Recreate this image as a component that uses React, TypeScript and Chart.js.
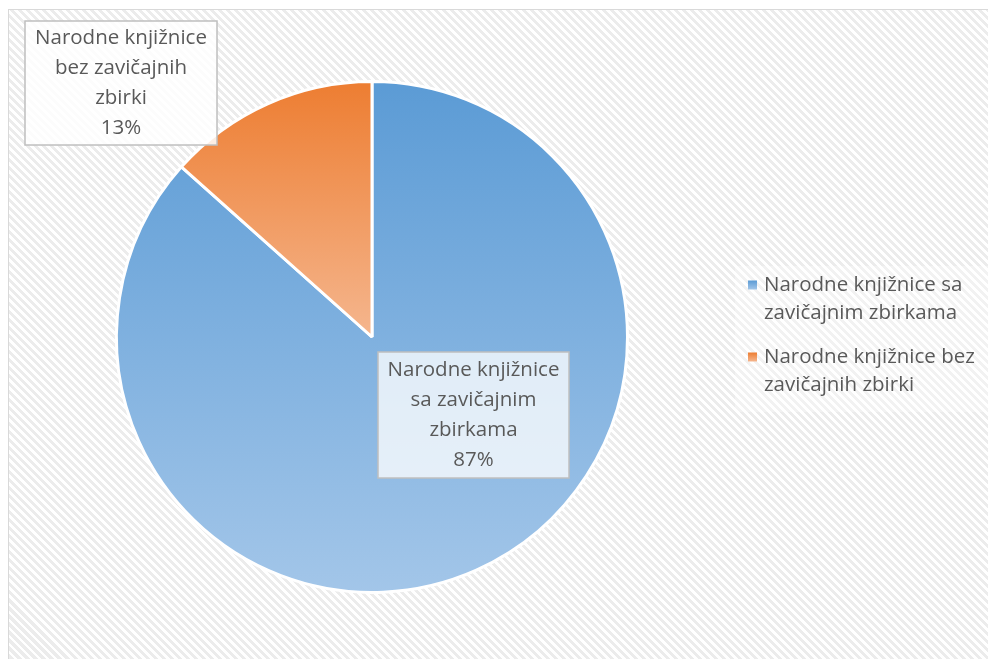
import React, { useEffect, useRef } from 'react';
import { Chart, registerables } from 'chart.js';

Chart.register(...registerables);

const categories = [
  'Narodne knjižnice sa zavičajnim zbirkama',
  'Narodne knjižnice bez zavičajnih zbirki',
];
const shares = [86.6, 13.4];
const topColors = ['#5B9BD5', '#ED7D31'];
const bottomColors = ['#A3C6E9', '#F5B68E'];

const FONT = '20.5px "Open Sans", "Noto Sans", sans-serif';
const TEXT = '#595959';

function wrap(ctx: CanvasRenderingContext2D, text: string, maxW: number): string[] {
  const words = text.split(' ');
  const lines: string[] = [];
  let cur = '';
  for (const w of words) {
    const t = cur ? cur + ' ' + w : w;
    if (cur && ctx.measureText(t).width > maxW) {
      lines.push(cur);
      cur = w;
    } else cur = t;
  }
  if (cur) lines.push(cur);
  return lines;
}

function sectorBounds(a0: number, a1: number) {
  const pts: [number, number][] = [[0, 0], [Math.cos(a0), Math.sin(a0)], [Math.cos(a1), Math.sin(a1)]];
  for (let k = -4; k <= 8; k++) {
    const a = (k * Math.PI) / 2;
    if (a > a0 && a < a1) pts.push([Math.cos(a), Math.sin(a)]);
  }
  let minY = Infinity, maxY = -Infinity;
  for (const p of pts) { minY = Math.min(minY, p[1]); maxY = Math.max(maxY, p[1]); }
  return { minY, maxY };
}

// label box offsets relative to pie centre (centre of box)
const labelBoxes = [
  { dx: 101.5, dy: 78, w: 191, h: 126, fill: 'rgba(255,255,255,0.76)' },
  { dx: -251, dy: -254, w: 192, h: 124, fill: 'rgba(255,255,255,0.85)' },
];

const labelPlugin = {
  id: 'boxLabels',
  afterDatasetsDraw(chart: any) {
    const ctx = chart.ctx as CanvasRenderingContext2D;
    const meta = chart.getDatasetMeta(0);
    const total = shares.reduce((a, b) => a + b, 0);
    ctx.save();
    ctx.font = FONT;
    meta.data.forEach((arc: any, i: number) => {
      const b = labelBoxes[i];
      const cx = arc.x + b.dx, cy = arc.y + b.dy;
      const x = cx - b.w / 2, y = cy - b.h / 2;
      ctx.fillStyle = b.fill;
      ctx.fillRect(x, y, b.w, b.h);
      ctx.strokeStyle = '#BFBFBF';
      ctx.lineWidth = 1.5;
      ctx.strokeRect(x, y, b.w, b.h);
      const lines = wrap(ctx, categories[i], 180);
      lines.push(Math.round((shares[i] / total) * 100) + '%');
      const lh = 30;
      ctx.fillStyle = TEXT;
      ctx.textAlign = 'center';
      ctx.textBaseline = 'middle';
      const start = cy - ((lines.length - 1) * lh) / 2;
      lines.forEach((l, k) => ctx.fillText(l, cx, start + k * lh));
    });
    ctx.restore();
  },
};

const legendPlugin = {
  id: 'sideLegend',
  afterDraw(chart: any) {
    const ctx = chart.ctx as CanvasRenderingContext2D;
    ctx.save();
    ctx.font = FONT;
    const bx = 726, by = 256, bw = 270, bh = 146;
    ctx.fillStyle = 'rgba(255,255,255,0.35)';
    ctx.fillRect(bx, by, bw, bh);
    const lh = 28.5;
    let y = 275;
    categories.forEach((c, i) => {
      const g = ctx.createLinearGradient(0, y - 4.5, 0, y + 4.5);
      g.addColorStop(0, topColors[i]);
      g.addColorStop(1, bottomColors[i]);
      ctx.fillStyle = g;
      ctx.fillRect(739, y - 4.5, 9, 9);
      const lines = wrap(ctx, c, 232);
      ctx.fillStyle = TEXT;
      ctx.textAlign = 'left';
      ctx.textBaseline = 'middle';
      lines.forEach((l, k) => ctx.fillText(l, 755, y + k * lh));
      y += lines.length * lh + 15;
    });
    ctx.restore();
  },
};

export default function App() {
  const ref = useRef<HTMLCanvasElement | null>(null);
  useEffect(() => {
    document.body.style.overflow = 'hidden';
    if (!ref.current) return;
    const total = shares.reduce((a, b) => a + b, 0);
    const angles: [number, number][] = [];
    let acc = -Math.PI / 2;
    shares.forEach((v) => {
      const a = (v / total) * Math.PI * 2;
      angles.push([acc, acc + a]);
      acc += a;
    });
    const chart = new Chart(ref.current, {
      type: 'pie',
      data: {
        labels: categories,
        datasets: [
          {
            data: shares,
            backgroundColor: (c: any) => {
              const i = c.dataIndex;
              const ca = c.chart.chartArea;
              if (!ca || i === undefined) return topColors[i ?? 0];
              const cy = (ca.top + ca.bottom) / 2;
              const R = Math.min(ca.width, ca.height) / 2;
              const bb = sectorBounds(angles[i][0], angles[i][1]);
              const g = c.chart.ctx.createLinearGradient(0, cy + bb.minY * R, 0, cy + bb.maxY * R);
              g.addColorStop(0, topColors[i]);
              g.addColorStop(1, bottomColors[i]);
              return g;
            },
            borderColor: '#FFFFFF',
            borderWidth: 3,
            hoverOffset: 0,
          },
        ],
      },
      options: {
        animation: false,
        responsive: false,
        devicePixelRatio: 1,
        events: [],
        layout: { padding: { left: 106, top: 70, right: 370, bottom: 76 } },
        plugins: {
          legend: { display: false },
          tooltip: { enabled: false },
        },
      },
      plugins: [labelPlugin, legendPlugin],
    });
    return () => chart.destroy();
  }, []);
  return (
    <div
      style={{
        position: 'relative',
        top: 1,
        width: 990,
        height: 660,
        border: '1px solid #D9D9D9',
        background:
          'repeating-linear-gradient(45deg, #ffffff 0px, #ffffff 2.8px, #ececec 2.8px, #ececec 5.66px)',
      }}
    >
      <canvas ref={ref} width={990} height={660} style={{ display: 'block' }} />
    </div>
  );
}
